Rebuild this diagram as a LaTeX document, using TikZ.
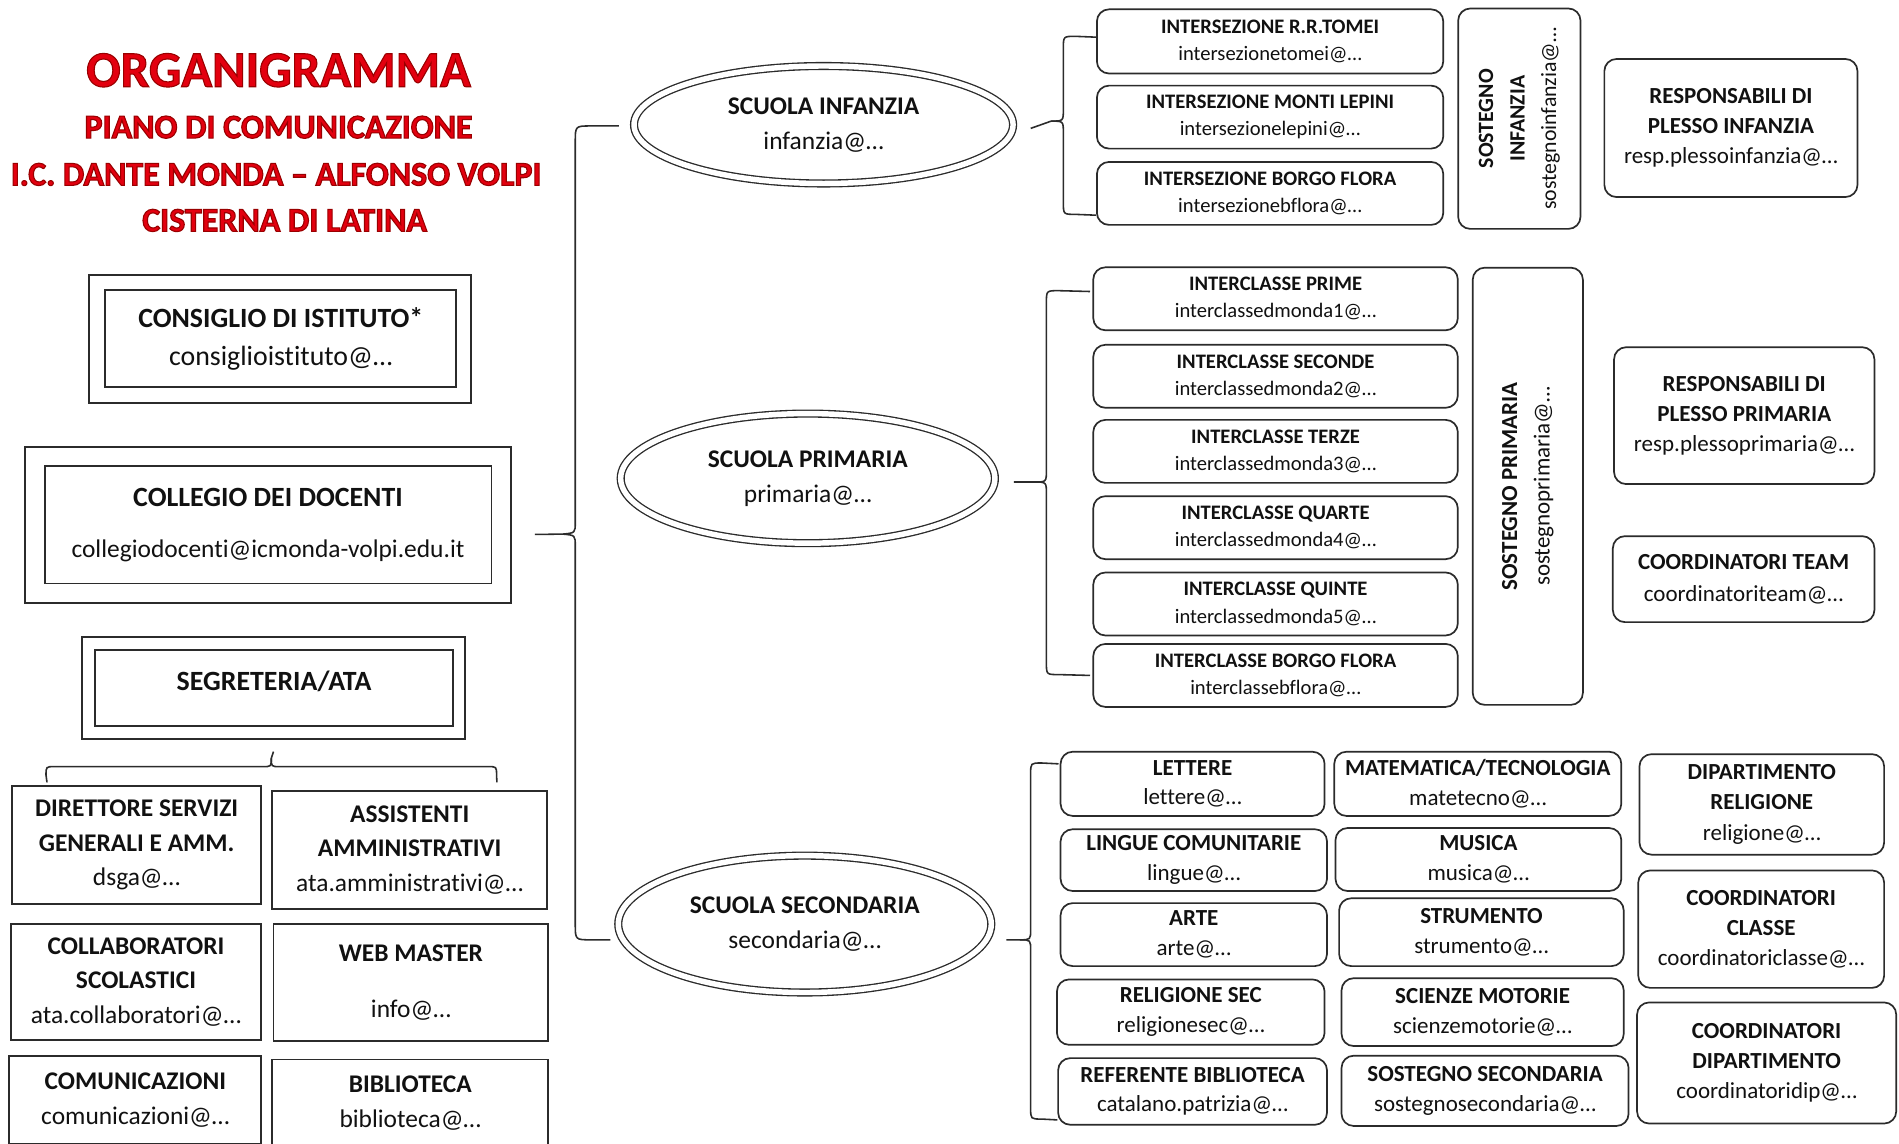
\documentclass[tikz,border=0pt]{standalone}
\usepackage{fontspec}
\setmainfont{Carlito}[Ligatures=NoCommon]
\usetikzlibrary{shapes.geometric,calc}
\definecolor{ttlred}{HTML}{E3000F}
\definecolor{ln}{HTML}{2B2B2B}
\definecolor{txt}{HTML}{111111}
\newcommand{\setfs}[2]{\fontsize{#1}{#2}\selectfont}
\newcommand{\outl}[1]{\special{pdf:literal direct 2 Tr 0.9 w 0.6 0 0 RG}#1\special{pdf:literal direct 0 Tr}}
\newcommand{\bx}[7]{\node[#1, minimum width={(#5-#3)*1pt}, minimum height={(#6-#4)*1pt}] (#2) at (#3,-#4) {#7};}
\tikzset{
 sq/.style={draw=ln, line width=1.6pt, inner sep=0pt, align=center, anchor=north west, text=txt},
 rbox/.style={draw=ln, line width=1.4pt, rounded corners=10pt, inner sep=0pt, align=center, anchor=north west, text=txt},
 ell/.style={ellipse, draw=ln, double=white, double distance=4.5pt, line width=1.1pt, inner sep=0pt, align=center, text=txt, font=\setfs{21}{29}},
 brc/.style={draw=ln, line width=1.3pt},
 ttl/.style={text=ttlred, inner sep=0pt},
 fL/.style={font=\setfs{23}{31}},
 fB/.style={font=\setfs{21}{28.5}},
 fS/.style={font=\setfs{17}{22.5}},
 fM/.style={font=\setfs{19}{24.5}},
}
\begin{document}
\begin{tikzpicture}[x=1pt,y=1pt]
\useasboundingbox (0,0) rectangle (1568,-944);
\fill[white] (0,0) rectangle (1568,-944);
\clip (0,0) rectangle (1568,-944);

% Title
\node[ttl, font=\bfseries\setfs{42}{42}] (t1) at (230,-58) {\outl{ORGANIGRAMMA}};
\node[ttl, font=\bfseries\setfs{28}{28}] (t2) at (230,-105) {\outl{PIANO DI COMUNICAZIONE}};
\node[ttl, font=\bfseries\setfs{28}{28}] (t3) at (228,-144) {\outl{I.C. DANTE MONDA – ALFONSO VOLPI}};
\node[ttl, font=\bfseries\setfs{28}{28}] (t4) at (235,-182) {\outl{CISTERNA DI LATINA}};

% Left boxes
\bx{sq}{consO}{73}{226}{388}{332}{}
\bx{sq,fL}{consI}{86}{239}{376}{319}{\textbf{CONSIGLIO DI ISTITUTO*}\\consiglioistituto@…}
\bx{sq}{collO}{20}{368}{421}{497}{}
\bx{sq,font=\setfs{23}{42}}{collI}{36}{384}{405}{481}{\textbf{COLLEGIO DEI DOCENTI}\\{\fontsize{21}{42}\selectfont collegiodocenti@icmonda-volpi.edu.it}}
\bx{sq}{segO}{67}{525}{383}{609}{}
\bx{sq,fL}{segI}{78}{536}{373}{599}{\raisebox{12pt}{\textbf{SEGRETERIA/ATA}}}

\bx{sq,fB}{dsga}{9}{648}{215}{746}{\textbf{DIRETTORE SERVIZI}\\\textbf{GENERALI E AMM.}\\dsga@…}
\bx{sq,fB}{assist}{224}{652}{451}{750}{\textbf{ASSISTENTI}\\\textbf{AMMINISTRATIVI}\\ata.amministrativi@…}
\bx{sq,fB}{collab}{8}{762}{215}{858}{\textbf{COLLABORATORI}\\\textbf{SCOLASTICI}\\ata.collaboratori@…}
\bx{sq,font=\setfs{21}{46}}{web}{225}{762}{452}{859}{\textbf{WEB MASTER}\\info@…}
\bx{sq,fB}{comun}{7}{871}{215}{944}{\textbf{COMUNICAZIONI}\\comunicazioni@…}
\bx{sq,fB}{bibl}{224}{874}{452}{946}{\textbf{BIBLIOTECA}\\biblioteca@…}

% Segreteria brace
\coordinate (sbTip) at ($(segO.south)+(0,-10)$);
\coordinate (sbL) at ($(dsga.north)+(-74,2)$);
\coordinate (sbR) at ($(assist.north)+(72,6)$);
\draw[brc] (sbL) -- (38,-640) .. controls (38,-633) .. (45,-633) -- (217,-633) .. controls (224,-633) .. (224,-626) -- (sbTip);
\draw[brc] (224,-626) .. controls (224,-633) .. (231,-633) -- (403,-633) .. controls (410,-633) .. (410,-640) -- (sbR);

% Ellipses
\node[ell, minimum width=313pt, minimum height=97pt] (inf) at (680,-103) {\textbf{SCUOLA INFANZIA}\\infanzia@…};
\node[ell, minimum width=309pt, minimum height=107pt] (prim) at (667,-395) {\textbf{SCUOLA PRIMARIA}\\primaria@…};
\node[ell, minimum width=308pt, minimum height=113pt] (sec) at (664.5,-763) {\textbf{SCUOLA SECONDARIA}\\secondaria@…};

% Big brace
\coordinate (bTip) at ($(collO.east)+(19,-8)$);
\coordinate (bTop) at ($(inf.west)+(-12,-1)$);
\coordinate (bBot) at ($(sec.west)+(-6,-13)$);
\draw[brc] (bTop) -- (488,-104) .. controls (475,-104) .. (475,-117) -- (475,-431) .. controls (475,-440) .. (465,-441) -- (bTip);
\draw[brc] (465,-441) .. controls (475,-442) .. (475,-451) -- (475,-763) .. controls (475,-776) .. (488,-776) -- (bBot);

% Infanzia
\bx{rbox,fS}{iTomei}{905}{7}{1191}{60}{\textbf{INTERSEZIONE R.R.TOMEI}\\intersezionetomei@…}
\bx{rbox,fS}{iLepini}{905}{70}{1191}{122}{\textbf{INTERSEZIONE MONTI LEPINI}\\intersezionelepini@…}
\bx{rbox,fS}{iFlora}{905}{133}{1191}{185}{\textbf{INTERSEZIONE BORGO FLORA}\\intersezionebflora@…}
\node[rbox, anchor=center, rotate=90, minimum width=182pt, minimum height=101pt, font=\setfs{18}{26}] (sostInf) at (1254.5,-98) {\textbf{SOSTEGNO}\\\textbf{INFANZIA}\\sostegnoinfanzia@…};
\bx{rbox,font=\setfs{19}{25}}{respInf}{1324}{48}{1533}{162}{\textbf{RESPONSABILI DI}\\\textbf{PLESSO INFANZIA}\\resp.plessoinfanzia@…}

\coordinate (iTip) at ($(inf.east)+(14,-3)$);
\coordinate (iTop) at ($(iTomei.west)+(0,3.5)$);
\coordinate (iBot) at ($(iFlora.west)+(0,-18)$);
\draw[brc] (iTop) -- (888,-30) .. controls (878,-30) .. (878,-40) -- (878,-90) .. controls (878,-100) .. (868,-100) -- (iTip);
\draw[brc] (868,-100) .. controls (878,-100) .. (878,-110) -- (878,-167) .. controls (878,-177) .. (888,-177) -- (iBot);

% Primaria
\bx{rbox,fS}{pPrime}{902}{220}{1203}{272}{\textbf{INTERCLASSE PRIME}\\interclassedmonda1@…}
\bx{rbox,fS}{pSeconde}{902}{284}{1203}{336}{\textbf{INTERCLASSE SECONDE}\\interclassedmonda2@…}
\bx{rbox,fS}{pTerze}{902}{346}{1203}{398}{\textbf{INTERCLASSE TERZE}\\interclassedmonda3@…}
\bx{rbox,fS}{pQuarte}{902}{409}{1203}{461}{\textbf{INTERCLASSE QUARTE}\\interclassedmonda4@…}
\bx{rbox,fS}{pQuinte}{902}{472}{1203}{524}{\textbf{INTERCLASSE QUINTE}\\interclassedmonda5@…}
\bx{rbox,fS}{pFlora}{902}{531}{1203}{583}{\textbf{INTERCLASSE BORGO FLORA}\\interclassebflora@…}
\node[rbox, anchor=center, rotate=90, minimum width=361pt, minimum height=91pt, font=\setfs{19}{27}] (sostPrim) at (1261.5,-401.5) {\textbf{SOSTEGNO PRIMARIA}\\sostegnoprimaria@…};
\bx{rbox,fM}{respPrim}{1332}{286}{1547}{399}{\textbf{RESPONSABILI DI}\\\textbf{PLESSO PRIMARIA}\\resp.plessoprimaria@…}
\bx{rbox,font=\setfs{19}{26}}{coordTeam}{1331}{442}{1547}{513}{\textbf{COORDINATORI TEAM}\\coordinatoriteam@…}

\coordinate (pTip) at ($(prim.east)+(15,-3)$);
\coordinate (pTop) at ($(pPrime.west)+(-2,6)$);
\coordinate (pBot) at ($(pFlora.west)+(-2,0)$);
\draw[brc] (pTop) -- (874,-240) .. controls (864,-240) .. (864,-250) -- (864,-388) .. controls (864,-398) .. (854,-398) -- (pTip);
\draw[brc] (854,-398) .. controls (864,-398) .. (864,-408) -- (864,-547) .. controls (864,-557) .. (874,-557) -- (pBot);

% Secondaria
\bx{rbox,fM}{sLettere}{875}{620}{1093}{673}{\textbf{LETTERE}\\lettere@…}
\bx{rbox,fM}{sLingue}{875}{684}{1095}{735}{\textbf{LINGUE COMUNITARIE}\\lingue@…}
\bx{rbox,fM}{sArte}{875}{745}{1095}{797}{\textbf{ARTE}\\arte@…}
\bx{rbox,fM}{sRelig}{872}{808}{1093}{862}{\textbf{RELIGIONE SEC}\\religionesec@…}
\bx{rbox,fM}{sRef}{873}{873}{1095}{928}{\textbf{REFERENTE BIBLIOTECA}\\catalano.patrizia@…}
\bx{rbox,fM}{sMate}{1101}{620}{1338}{673}{\textbf{MATEMATICA/TECNOLOGIA}\\matetecno@…}
\bx{rbox,fM}{sMusica}{1102}{683}{1338}{735}{\textbf{MUSICA}\\musica@…}
\bx{rbox,fM}{sStrum}{1105}{741}{1340}{797}{\textbf{STRUMENTO}\\strumento@…}
\bx{rbox,fM}{sScienze}{1107}{807}{1340}{863}{\textbf{SCIENZE MOTORIE}\\scienzemotorie@…}
\bx{rbox,fM}{sSost}{1107}{871}{1344}{929}{\textbf{SOSTEGNO SECONDARIA}\\sostegnosecondaria@…}
\bx{rbox,font=\setfs{19}{25.5}}{dipRel}{1353}{622}{1555}{705}{\textbf{DIPARTIMENTO}\\\textbf{RELIGIONE}\\religione@…}
\bx{rbox,font=\setfs{19}{25}}{coordCl}{1352}{718}{1555}{815}{\textbf{COORDINATORI}\\\textbf{CLASSE}\\coordinatoriclasse@…}
\bx{rbox,font=\setfs{19}{25}}{coordDip}{1351}{827}{1565}{927}{\textbf{COORDINATORI}\\\textbf{DIPARTIMENTO}\\coordinatoridip@…}

\coordinate (sTip) at ($(sec.east)+(12,-13)$);
\coordinate (sTop) at ($(sLettere.west)+(-1,16.5)$);
\coordinate (sBot) at ($(sRef.west)+(0,-23.5)$);
\draw[brc] (sTop) -- (860,-630) .. controls (851,-630) .. (851,-639) -- (851,-767) .. controls (851,-776) .. (842,-776) -- (sTip);
\draw[brc] (842,-776) .. controls (851,-776) .. (851,-785) -- (851,-915) .. controls (851,-924) .. (860,-924) -- (sBot);
\end{tikzpicture}
\end{document}
